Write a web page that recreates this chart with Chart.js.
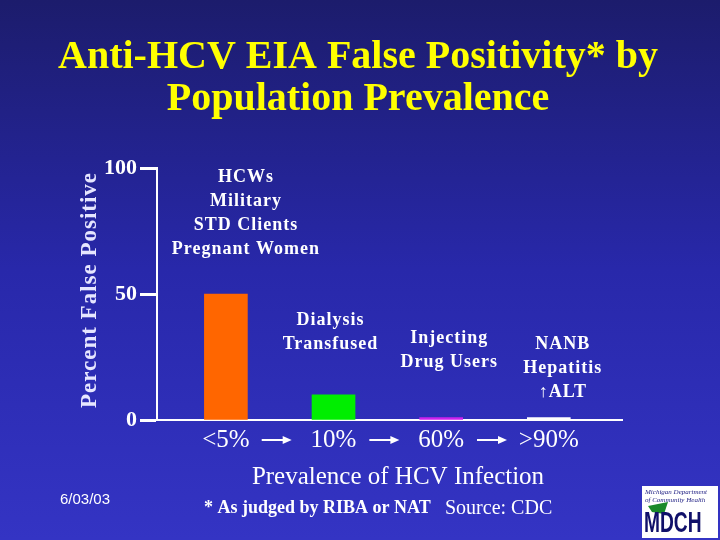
<!DOCTYPE html>
<html>
<head>
<meta charset="utf-8">
<script src="https://cdn.jsdelivr.net/npm/chart.js@4"></script>
<style>
html,body{margin:0;padding:0;}
body{width:720px;height:540px;overflow:hidden;background:linear-gradient(#1c1c6c 0%,#2828aa 50%,#3434c4 100%);}
</style>
</head>
<body>
<canvas id="chart" width="720" height="540"></canvas>
<script>
// data
const categories = ["<5%", "10%", "60%", ">90%"];
const falsePositive = [50, 10, 1, 1];
const yTicks = [0, 50, 100];
const barColors = ["#ff6600", "#00ee00", "#cc22ee", "#ffffff"];
const groupNames = [
    ["HCWs", "Military", "STD Clients", "Pregnant Women"],
    ["Dialysis", "Transfused"],
    ["Injecting", "Drug Users"],
    ["NANB", "Hepatitis", "\u2191ALT"]
];

const SERIF = "'Liberation Serif', 'Times New Roman', serif";

/* draws all the slide text round the chart */
const slideText = {
    id: "slideText",
    afterDraw(chart){
        let c = chart.ctx, xs = chart.scales.x;
        c.save();
        c.textAlign = "center";
        c.textBaseline = "middle";

        // title
        c.fillStyle = "#ffff00";
        c.font = "bold 40px " + SERIF;
        c.fillText("Anti-HCV EIA False Positivity* by", 358, 58);
        c.fillText("Population Prevalence", 358, 100);

        // y title
        c.save();
        c.translate(90, 290);
        c.rotate(-Math.PI/2);
        c.fillStyle = "#e6e6ff";
        c.font = "bold 23px " + SERIF;
        c.letterSpacing = "1px";
        c.fillText("Percent False Positive", 0, 0);
        c.restore();

        // x title
        c.fillStyle = "#ffffff";
        c.font = "25px " + SERIF;
        c.fillText("Prevalence of HCV Infection", 398, 477);

        // arrows between categories
        c.strokeStyle = "#ffffff";
        c.lineWidth = 2;
        for(let i=0;i<categories.length-1;i++){
            let m = (xs.getPixelForValue(i) + xs.getPixelForValue(i+1))/2 - 3;
            let y = 440;
            c.beginPath();
            c.moveTo(m-15, y); c.lineTo(m+8, y); c.stroke();
            c.beginPath();
            c.moveTo(m+15, y); c.lineTo(m+6, y-4); c.lineTo(m+6, y+4); c.closePath(); c.fill();
        }

        // population groups
        c.font = "bold 18px " + SERIF;
        c.letterSpacing = "1px";
        const place = [[20, 177], [-3, 320], [8, 338], [14, 344]];
        groupNames.forEach((g, i)=>{
            let x = xs.getPixelForValue(i) + place[i][0];
            g.forEach((t, j)=> c.fillText(t, x, place[i][1] + j*24));
        });
        c.letterSpacing = "0px";

        // footer
        c.textAlign = "left";
        c.font = "15px 'Liberation Sans Narrow', 'Liberation Sans', sans-serif";
        c.fillText("6/03/03", 60, 500);
        c.font = "bold 18px " + SERIF;
        c.fillText("* As judged by RIBA or NAT", 204, 508);
        c.font = "20px " + SERIF;
        c.fillText("Source: CDC", 445, 509);

        // logo
        c.fillStyle = "#ffffff";
        c.fillRect(642, 486, 76, 52);
        c.fillStyle = "#1a1a80";
        c.font = "italic 7px " + SERIF;
        c.fillText("Michigan Department", 645, 492);
        c.fillText("of Community Health", 645, 500);
        c.fillStyle = "#1a8a2a";
        c.beginPath(); c.moveTo(648, 506); c.lineTo(668, 502); c.lineTo(664, 514); c.lineTo(652, 512); c.closePath(); c.fill();
        c.fillStyle = "#10106a";
        c.save();
        c.translate(644, 524);
        c.scale(0.8, 1.2);
        c.font = "bold 24px 'Liberation Sans', sans-serif";
        c.fillText("MDCH", 0, 0);
        c.restore();
        c.restore();
    }
};

new Chart(document.getElementById("chart"), {
    type: "bar",
    data: {
        datasets: [{
            data: falsePositive.map((v, i)=>({x: i, y: v})),
            backgroundColor: barColors,
            borderWidth: 0,
            barThickness: 43
        }]
    },
    options: {
        responsive: false,
        animation: false,
        layout: { padding: { top: 168, left: 101, right: 98, bottom: 87 } },
        plugins: { legend: { display: false }, tooltip: { enabled: false } },
        scales: {
            x: {
                type: "linear",
                offset: false,
                min: -0.64, max: 3.68,
                afterBuildTicks: s=>{ s.ticks = categories.map((c, i)=>({value: i})); },
                ticks: {
                    callback: v=>categories[v],
                    color: "#ffffff",
                    font: { family: SERIF, size: 25, lineHeight: 1 },
                    padding: 0, autoSkip: false, maxRotation: 0
                },
                grid: { display: false },
                border: { display: true, color: "#ffffff", width: 2 }
            },
            y: {
                min: 0, max: 100,
                afterBuildTicks: s=>{ s.ticks = yTicks.map(v=>({value: v})); },
                ticks: { color: "#ffffff", font: { family: SERIF, size: 22, weight: "bold" }, padding: 3 },
                grid: { drawOnChartArea: false, tickLength: 17, tickWidth: 3, tickColor: "#ffffff" },
                border: { color: "#ffffff", width: 2 }
            }
        }
    },
    plugins: [slideText]
});
</script>
</body>
</html>
